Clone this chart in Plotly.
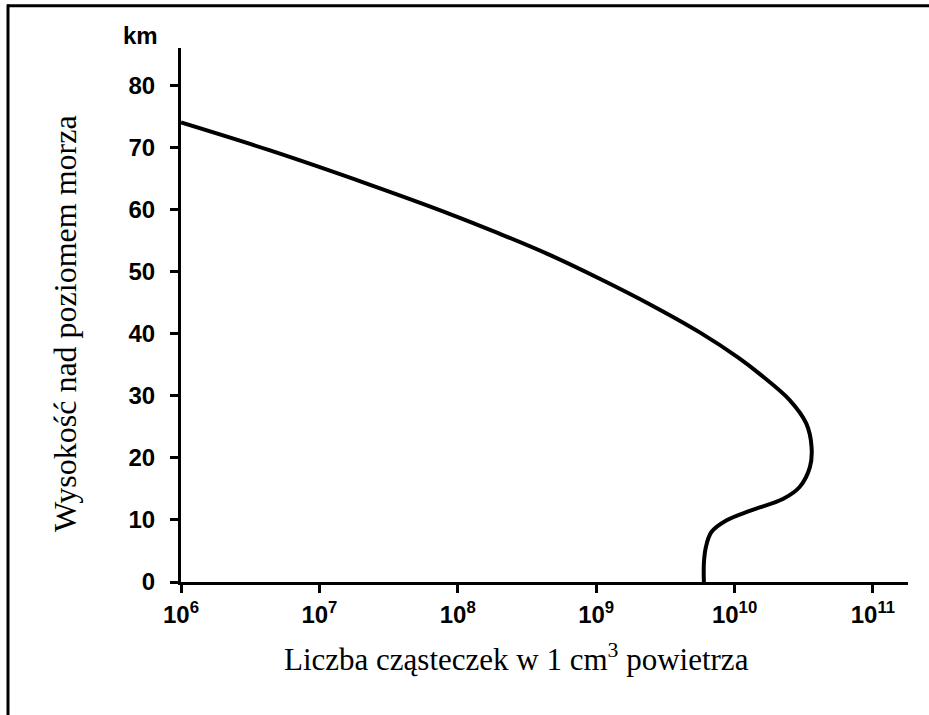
import plotly.graph_objects as go

# Data: molecules per cm^3 vs altitude (km)
concentration = [1.0e6, 4.4e6, 2.3e7, 8.7e7, 2.0e8, 4.7e8, 1.07e9, 2.45e9,
                 5.6e9, 1.07e10, 1.5e10, 2.5e10, 3.3e10, 3.6e10, 3.5e10,
                 2.95e10, 2.25e10, 1.3e10, 8.7e9, 6.8e9, 6.2e9, 6.0e9, 6.0e9]
altitude_km = [74.0, 69.5, 64.0, 59.3, 56.1, 52.6, 48.8, 44.7,
               40.2, 36.1, 33.6, 29.3, 25.5, 21.7, 18.5,
               15.3, 13.4, 11.5, 9.9, 8.05, 5.6, 3.0, 0.0]

x_tickvals = [1e6, 1e7, 1e8, 1e9, 1e10, 1e11]
x_ticktext = ["10<sup>6</sup>", "10<sup>7</sup>", "10<sup>8</sup>",
              "10<sup>9</sup>", "10<sup>10</sup>", "10<sup>11</sup>"]
y_tickvals = [0, 10, 20, 30, 40, 50, 60, 70, 80]

x_title = "Liczba cząsteczek w 1 cm<sup>3</sup> powietrza"
y_title = "Wysokość nad poziomem morza"
unit_label = "km"

W, H = 929, 715
L, R, T, B = 181, 21, 48, 133
PW, PH = W - L - R, H - T - B


def px(x):
    return (x - L) / PW


def py(y):
    return 1 - (y - T) / PH


fig = go.Figure()
fig.add_trace(go.Scatter(
    x=concentration, y=altitude_km, mode="lines",
    line=dict(color="black", width=4, shape="spline", smoothing=1.0),
    showlegend=False, hoverinfo="skip"))

tickfont = dict(family="Liberation Sans", size=24, color="black", weight="bold")

fig.update_layout(
    width=W, height=H, autosize=False,
    margin=dict(l=L, r=R, t=T, b=B),
    paper_bgcolor="white", plot_bgcolor="white",
    xaxis=dict(type="log", range=[6, 11.253], tickvals=x_tickvals,
               ticktext=x_ticktext, showgrid=False, zeroline=False,
               showline=True, linecolor="black", linewidth=3,
               ticks="outside", ticklen=8, tickwidth=2.5, tickcolor="black",
               tickfont=tickfont, ticklabelstandoff=1),
    yaxis=dict(range=[0, 86], tickvals=y_tickvals, showgrid=False,
               zeroline=False, showline=True, linecolor="black", linewidth=3,
               ticks="outside", ticklen=8, tickwidth=2.5, tickcolor="black",
               tickfont=tickfont, ticklabelstandoff=10),
    annotations=[
        dict(text=unit_label, x=px(140), y=py(35), xref="paper", yref="paper",
             showarrow=False, xanchor="center", yanchor="middle",
             font=dict(family="Liberation Sans", size=24, color="black",
                       weight="bold")),
        dict(text=x_title, x=px(516), y=py(657), xref="paper", yref="paper",
             showarrow=False, xanchor="center", yanchor="middle",
             font=dict(family="Liberation Serif", size=31, color="black")),
        dict(text=y_title, x=px(65), y=py(324), xref="paper", yref="paper",
             showarrow=False, xanchor="center", yanchor="middle", textangle=-90,
             font=dict(family="Liberation Serif", size=32, color="black")),
    ],
    shapes=[
        dict(type="line", xref="paper", yref="paper", x0=px(7), x1=px(929),
             y0=py(5.7), y1=py(5.7), line=dict(color="black", width=3)),
        dict(type="line", xref="paper", yref="paper", x0=px(8), x1=px(8),
             y0=py(4.5), y1=py(715), line=dict(color="black", width=3)),
    ],
)

fig.write_html("out.html", config={"displayModeBar": False},
               post_script="document.body.style.margin='0';"
                           "document.body.style.overflow='hidden';")
